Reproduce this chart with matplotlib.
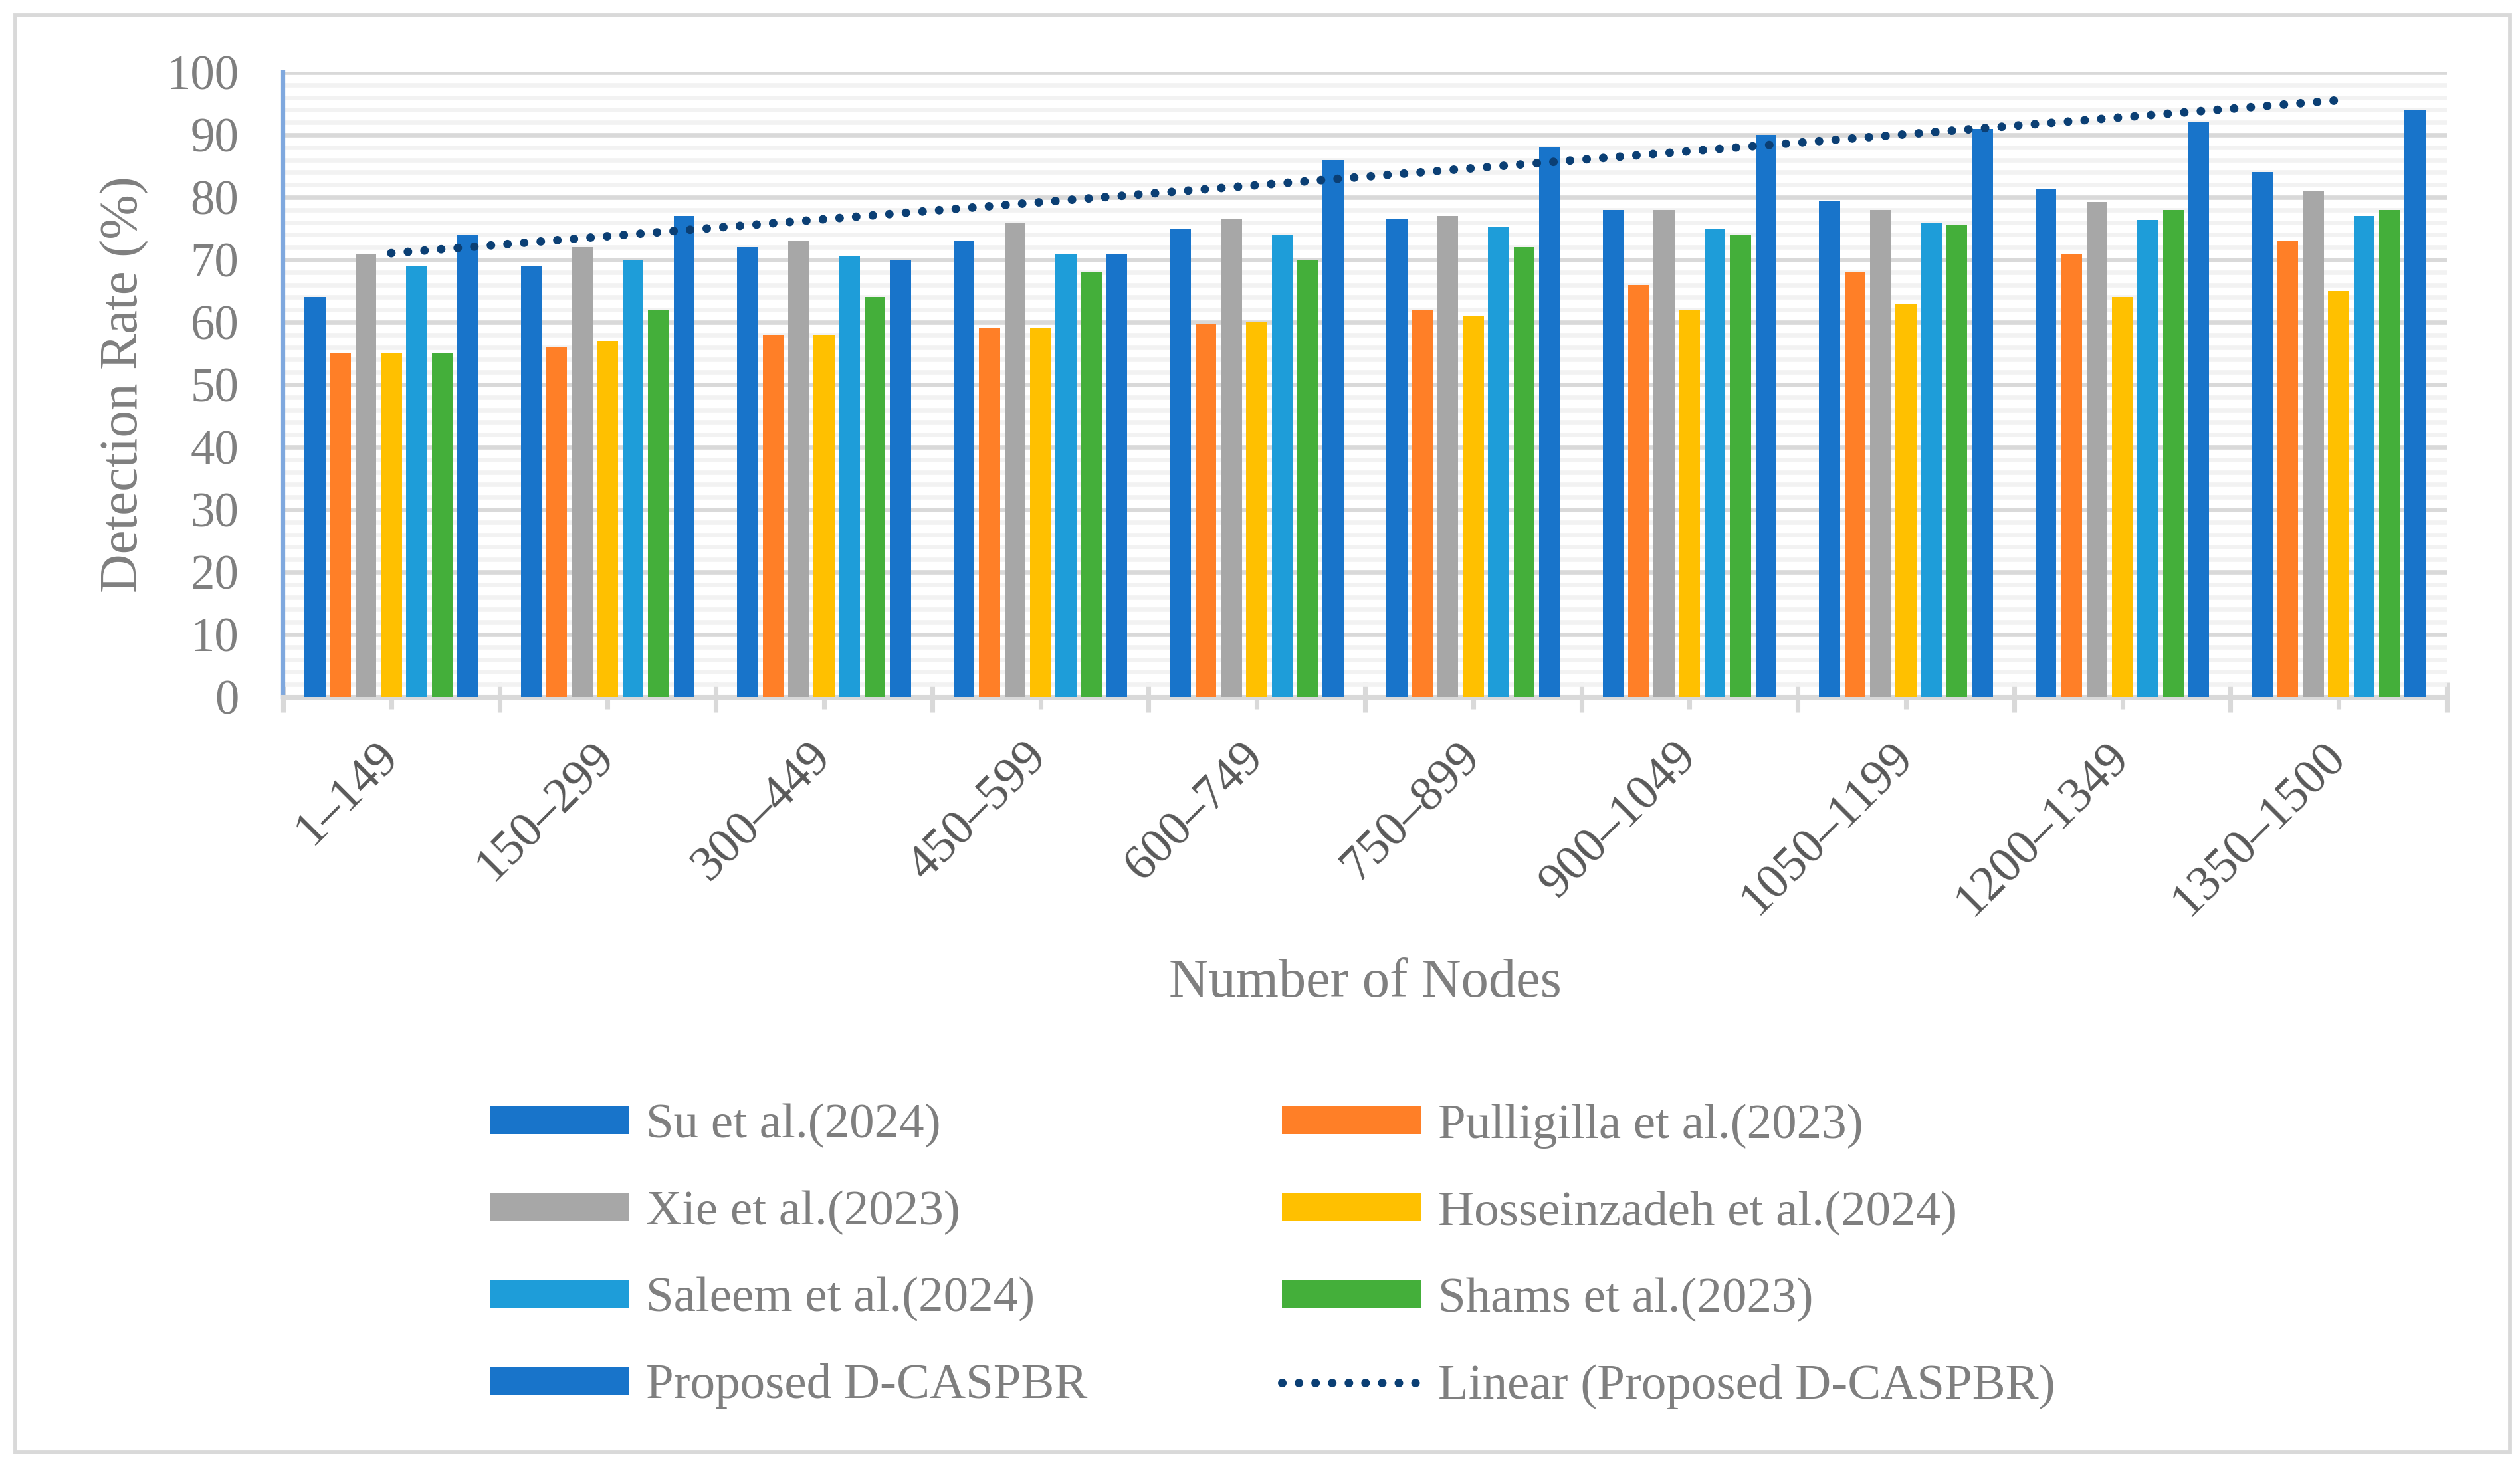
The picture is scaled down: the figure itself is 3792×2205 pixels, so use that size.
import numpy as np
import matplotlib
matplotlib.use("Agg")
import matplotlib.pyplot as plt
from matplotlib.patches import Rectangle

# data
node_ranges = ["1–149", "150–299", "300–449", "450–599", "600–749",
               "750–899", "900–1049", "1050–1199", "1200–1349", "1350–1500"]

su_2024 = [64, 69, 72, 73, 75, 76.5, 78, 79.5, 81.3, 84]
pulligilla_2023 = [55, 56, 58, 59, 59.7, 62, 66, 68, 71, 73]
xie_2023 = [71, 72, 73, 76, 76.5, 77, 78, 78, 79.3, 81]
hosseinzadeh_2024 = [55, 57, 58, 59, 60, 61, 62, 63, 64, 65]
saleem_2024 = [69, 70, 70.5, 71, 74, 75.2, 75, 76, 76.4, 77]
shams_2023 = [55, 62, 64, 68, 70, 72, 74, 75.5, 78, 78]
proposed = [74, 77, 70, 71, 86, 88, 90, 91, 92, 94]

series_names = ["Su et al.(2024)", "Pulligilla et al.(2023)", "Xie et al.(2023)",
                "Hosseinzadeh et al.(2024)", "Saleem et al.(2024)", "Shams et al.(2023)",
                "Proposed D-CASPBR"]
series_vals = [su_2024, pulligilla_2023, xie_2023, hosseinzadeh_2024,
               saleem_2024, shams_2023, proposed]
colors = ["#1874CA", "#FF7F27", "#A7A7A7", "#FFC000", "#1E9DD9", "#44AF3A", "#1874CA"]
trend_color = "#0B3F74"

plt.rcParams['font.family'] = ['Liberation Serif', 'DejaVu Serif']

W, H, DPI = 3792, 2205, 300
fig = plt.figure(figsize=(W / DPI, H / DPI), dpi=DPI)
ax = fig.add_axes([426 / W, 1 - 1049 / H, (3682 - 426) / W, (1049 - 109) / H])

x = np.arange(len(node_ranges))
pitch = 0.1177
width = 0.0967
bars = []
for i, (name, vals, c) in enumerate(zip(series_names, series_vals, colors)):
    b = ax.bar(x + (i - 3) * pitch, vals, width=width, color=c, label=name, zorder=3)
    bars.append(b)

# linear trendline of the proposed method (like Excel)
coef = np.polyfit(x + 1, proposed, 1)
trend = np.polyval(coef, x + 1)
trend_line, = ax.plot(x, trend, color=trend_color, lw=3.1,
                      linestyle=(0, (0.01, 1.93)), dash_capstyle='round', zorder=4,
                      label="Linear (Proposed D-CASPBR)")

ax.set_xlim(-0.5, len(node_ranges) - 0.5)
ax.set_ylim(0, 100)
ax.set_yticks(np.arange(0, 101, 10))
ax.set_yticks(np.arange(0, 101, 2), minor=True)
ax.yaxis.grid(True, which='minor', color='#F2F2F2', lw=1.6, zorder=0)
ax.yaxis.grid(True, which='major', color='#D9D9D9', lw=1.6, zorder=1)
ax.set_axisbelow(True)
ax.tick_params(axis='y', which='both', length=0, pad=16, labelsize=17.5, labelcolor='#7F7F7F')

ax.set_xticks(x)
ax.set_xticklabels(node_ranges)
ax.set_xticks(np.arange(-0.5, len(node_ranges), 1), minor=True)
ax.tick_params(axis='x', which='major', direction='inout', length=8.4, width=1.7,
               color='#D9D9D9', pad=15, labelsize=18, labelcolor='#595959')
ax.tick_params(axis='x', which='minor', direction='inout', length=10.8, width=1.7,
               color='#D9D9D9')
for lab in ax.get_xticklabels():
    lab.set_rotation(45)
    lab.set_ha('right')
    lab.set_va('center')
    lab.set_rotation_mode('anchor')

for s in ['top', 'right']:
    ax.spines[s].set_visible(False)
ax.spines['left'].set_color('#7FA8DE')
ax.spines['left'].set_linewidth(1.5)
ax.spines['bottom'].set_color('#D9D9D9')
ax.spines['bottom'].set_linewidth(1.7)

ax.set_ylabel("Detection Rate (%)", fontsize=19.5, color='#7F7F7F')
ax.yaxis.set_label_coords(-0.0734, 0.5)
ax.yaxis.label.set_va('center')
ax.set_xlabel("Number of Nodes", fontsize=19.8, color='#7F7F7F')
ax.xaxis.set_label_coords(0.5, -0.459)
ax.xaxis.label.set_va('center')

# legend in two columns, row-major order like the original
leg_kw = dict(frameon=False, fontsize=18, handlelength=2.8, handleheight=0.5,
              handletextpad=0.33, labelspacing=0.84, borderpad=0, borderaxespad=0,
              loc='upper left', labelcolor='#7F7F7F')
col1 = [bars[0], bars[2], bars[4], bars[6]]
col2 = [bars[1], bars[3], bars[5], trend_line]
leg1 = fig.legend(col1, [h.get_label() for h in col1],
                  bbox_to_anchor=(737 / W, 1 - 1661 / H), **leg_kw)
leg2 = fig.legend(col2, [h.get_label() for h in col2],
                  bbox_to_anchor=(1929 / W, 1 - 1661 / H), **leg_kw)

# outer chart border
fig.patches.append(Rectangle((23 / W, 1 - 2186 / H), (3777 - 23) / W, (2186 - 23) / H,
                             transform=fig.transFigure, fill=False,
                             edgecolor='#D9D9D9', lw=1.4))

fig.savefig("out.png", dpi=DPI)
